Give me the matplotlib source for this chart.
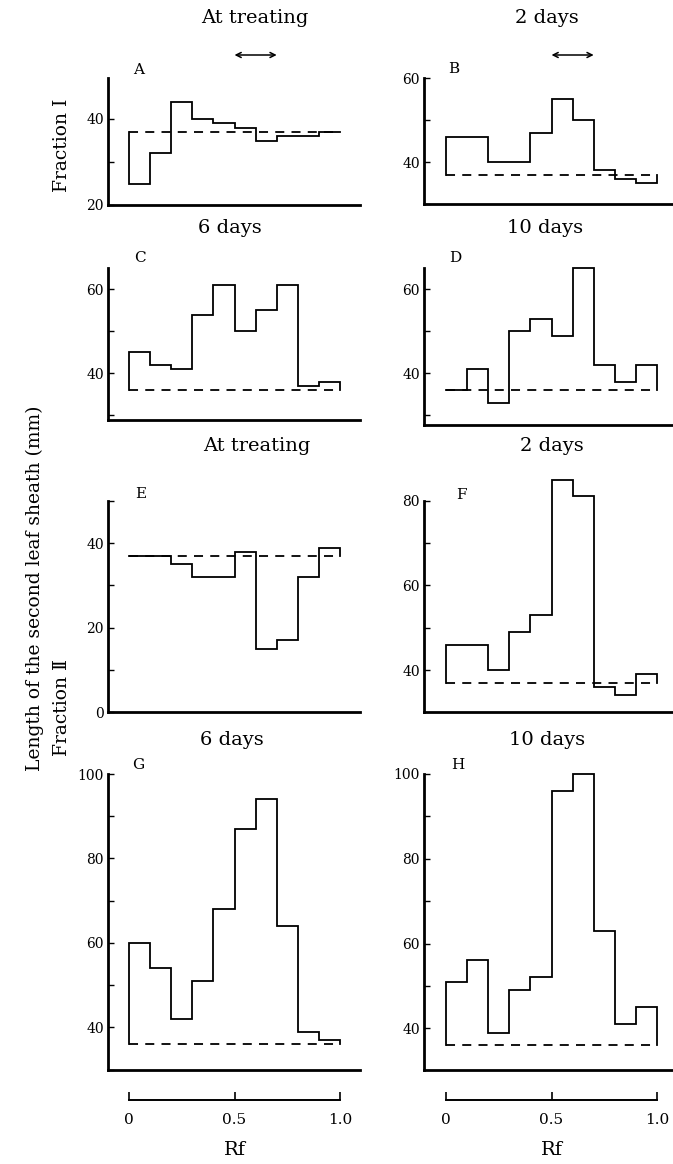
import numpy as np
import matplotlib
matplotlib.use("Agg")
import matplotlib.pyplot as plt
from matplotlib.ticker import MultipleLocator
import matplotlib.transforms as mtransforms

# ---------------- data ----------------
rf_edges = [0.0, 0.1, 0.2, 0.3, 0.4, 0.5, 0.6, 0.7, 0.8, 0.9, 1.0]
panel_letters = ["A", "B", "C", "D", "E", "F", "G", "H"]
panel_titles = ["At treating", "2 days", "6 days", "10 days",
                "At treating", "2 days", "6 days", "10 days"]

vals_A = [25, 32, 44, 40, 39, 38, 35, 36, 36, 37]
vals_B = [46, 46, 40, 40, 47, 55, 50, 38, 36, 35]
vals_C = [45, 42, 41, 54, 61, 50, 55, 61, 37, 38]
vals_D = [36, 41, 33, 50, 53, 49, 65, 42, 38, 42]
vals_E = [37, 37, 35, 32, 32, 38, 15, 17, 32, 39]
vals_F = [46, 46, 40, 49, 53, 85, 81, 36, 34, 39]
vals_G = [60, 54, 42, 51, 68, 87, 94, 64, 39, 37]
vals_H = [51, 56, 39, 49, 52, 96, 100, 63, 41, 45]

control_A = 37
control_B = 37
control_C = 36
control_D = 36
control_E = 37
control_F = 37
control_G = 36
control_H = 36

arrow_range = [0.5, 0.7]          # active zone marked above panels A and B
rf_ticks = [0, 0.5, 1.0]
rf_ticklabels = ["0", "0.5", "1.0"]

# ---------------- layout (pixels) ----------------
W, H = 673, 1164
fig = plt.figure(figsize=(W / 100, H / 100), dpi=100)
SERIF = ["DejaVu Serif", "DejaVu Sans"]
plt.rcParams["font.family"] = SERIF


def fx(px):
    return px / W


def fy(py):
    return 1 - py / H


# column geometry: spine left, spine right, Rf=0 px, Rf=1 px
cols = {0: (108, 360, 129, 340), 1: (424, 673, 446, 657)}

panels = [
    ("A", 0, (119.0, 40), (205.0, 20), 78, 205),
    ("B", 1, (162.0, 40), (78.0, 60), 78, 204),
    ("C", 0, (289.3, 60), (373.3, 40), 268, 420),
    ("D", 1, (289.3, 60), (373.3, 40), 268, 425),
    ("E", 0, (543.3, 40), (712.0, 0), 500.7, 712),
    ("F", 1, (500.7, 80), (670.0, 40), 470, 712),
    ("G", 0, (774.0, 100), (1027.3, 40), 774, 1070),
    ("H", 1, (774.0, 100), (1028.3, 40), 774, 1070),
]

values = dict(A=vals_A, B=vals_B, C=vals_C, D=vals_D,
              E=vals_E, F=vals_F, G=vals_G, H=vals_H)
controls = dict(A=control_A, B=control_B, C=control_C, D=control_D,
                E=control_E, F=control_F, G=control_G, H=control_H)

title_pos = {"A": (255, 18), "B": (547, 18), "C": (230, 228), "D": (545, 228),
             "E": (257, 446), "F": (552, 446), "G": (232, 740), "H": (547, 740)}
letter_pos = {"A": (133, 70), "B": (448, 69), "C": (134, 258), "D": (449, 258),
              "E": (135, 494), "F": (456, 495), "G": (132, 765), "H": (451, 765)}

axes = {}
for i, (name, col, (ya, va), (yb, vb), top_px, bot_px) in enumerate(panels):
    sl, sr, x0, x1 = cols[col]
    ppu = (yb - ya) / (va - vb)       # pixels per unit (positive)
    y_at_top = va + (ya - top_px) / ppu
    y_at_bot = va - (bot_px - ya) / ppu
    ax = fig.add_axes([fx(sl), fy(bot_px), fx(sr - sl), (bot_px - top_px) / H])
    ax.set_xlim((sl - x0) / (x1 - x0), (sr - x0) / (x1 - x0))
    ax.set_ylim(y_at_bot, y_at_top)
    axes[name] = ax

    v = values[name]
    c = controls[name]
    xs = np.repeat(rf_edges, 2)
    ys = np.concatenate([[c], np.repeat(v, 2), [c]])
    ax.plot(xs, ys, color="black", lw=1.3, solid_joinstyle="miter", clip_on=False)
    ax.hlines(c, rf_edges[0], rf_edges[-1], colors="black", lw=1.3,
              linestyles=(0, (5, 4)))

    for s in ["top", "right"]:
        ax.spines[s].set_visible(False)
    for s in ["left", "bottom"]:
        ax.spines[s].set_linewidth(2.0)
    if name == "F":
        ax.spines["left"].set_bounds(y_at_bot, 80)
    ax.yaxis.set_major_locator(MultipleLocator(20))
    ax.yaxis.set_minor_locator(MultipleLocator(10))
    ax.set_xticks([])
    ax.tick_params(axis="y", which="both", direction="in", length=4, width=1.0,
                   labelsize=10, pad=3)
    ax.patch.set_visible(False)

    tx, ty = title_pos[name]
    fig.text(fx(tx), fy(ty), panel_titles[i], ha="center", va="center",
             fontsize=14)
    lx, ly = letter_pos[name]
    fig.text(fx(lx), fy(ly), name, ha="left", va="center", fontsize=11)

# arrows above A and B
for name in ["A", "B"]:
    ax = axes[name]
    tr = mtransforms.blended_transform_factory(ax.transData, fig.transFigure)
    ax.annotate("", xy=(arrow_range[1], fy(55)), xycoords=tr,
                xytext=(arrow_range[0], fy(55)), textcoords=tr,
                arrowprops=dict(arrowstyle="<->", lw=1.1, color="black",
                                shrinkA=0, shrinkB=0, mutation_scale=9),
                annotation_clip=False)

# Rf scale bars
for col in [0, 1]:
    sl, sr, x0, x1 = cols[col]
    sax = fig.add_axes([fx(x0), fy(1100), fx(x1 - x0), 10 / H])
    sax.set_xlim(0, 1)
    sax.set_ylim(0, 1)
    for s in ["top", "right", "left"]:
        sax.spines[s].set_visible(False)
    sax.spines["bottom"].set_linewidth(1.4)
    sax.set_yticks([])
    sax.set_xticks(rf_ticks)
    sax.set_xticklabels(rf_ticklabels)
    sax.tick_params(axis="x", direction="in", length=6, width=1.2,
                    labelsize=11, pad=9)
    sax.patch.set_visible(False)
    fig.text(fx((x0 + x1) / 2), fy(1150), "Rf", ha="center", va="center",
             fontsize=14)

# side labels
fig.text(fx(35), fy(588), "Length of the second leaf sheath (mm)", rotation=90,
         ha="center", va="center", fontsize=13.5)
fig.text(fx(62), fy(145), "Fraction Ⅰ", rotation=90, ha="center", va="center",
         fontsize=13.5, family=["DejaVu Serif", "DejaVu Sans", "Noto Sans CJK JP"])
fig.text(fx(62), fy(708), "Fraction Ⅱ", rotation=90, ha="center", va="center",
         fontsize=13.5, family=["DejaVu Serif", "DejaVu Sans", "Noto Sans CJK JP"])

fig.savefig("out.png", dpi=100, facecolor="white")
